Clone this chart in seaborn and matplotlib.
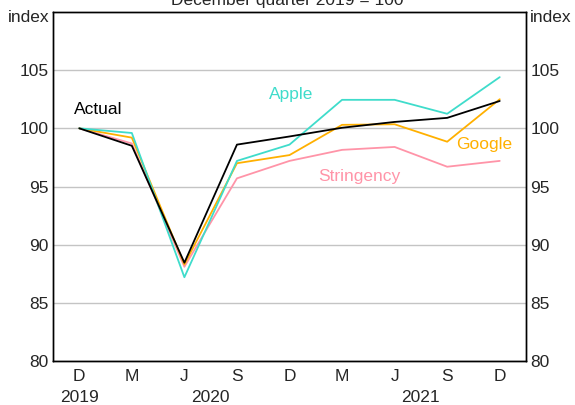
import matplotlib
matplotlib.use("Agg")
import matplotlib.pyplot as plt
import seaborn as sns
import pandas as pd
import numpy as np

quarters = ["D", "M", "J", "S", "D", "M", "J", "S", "D"]
years = ["2019", "2020", "2020", "2020", "2020", "2021", "2021", "2021", "2021"]
actual = [100.0, 98.5, 88.45, 98.6, 99.3, 100.05, 100.55, 100.9, 102.35]
apple = [100.0, 99.6, 87.2, 97.2, 98.6, 102.45, 102.45, 101.25, 104.4]
google = [100.0, 99.2, 88.3, 97.0, 97.7, 100.3, 100.35, 98.85, 102.5]
stringency = [100.0, 98.7, 88.1, 95.7, 97.2, 98.15, 98.4, 96.7, 97.2]
yticks = [80, 85, 90, 95, 100, 105]

series = {"Stringency": stringency, "Google": google, "Apple": apple, "Actual": actual}
colors = {"Actual": "#000000", "Apple": "#3fdccb", "Google": "#ffb000", "Stringency": "#ff94a8"}

rows = []
for name, vals in series.items():
    for i, v in enumerate(vals):
        rows.append({"pos": i, "value": v, "series": name})
df = pd.DataFrame(rows)

sns.set_theme(style="white")
plt.rcParams["font.family"] = ["Liberation Sans", "DejaVu Sans"]

fig = plt.figure(figsize=(5.75, 4.05), dpi=100)
ax = fig.add_axes([53 / 575, 1 - 361 / 405, 473 / 575, 349 / 405])

sns.lineplot(data=df, x="pos", y="value", hue="series", palette=colors,
             hue_order=["Stringency", "Google", "Apple", "Actual"],
             linewidth=1.3, legend=False, ax=ax)

ax.set_xlim(-0.5, 8.5)
ax.set_ylim(80, 110)
ax.set_yticks(yticks)
ax.set_yticklabels([str(t) for t in yticks], fontsize=12.5)
ax.yaxis.grid(True, color="#c4c4c4", linewidth=1.0)
ax.set_axisbelow(True)
ax.tick_params(axis="y", length=0, pad=3)
ax.set_xlabel("")
ax.set_ylabel("")

# x ticks: boundaries as inward tick marks, labels at centres
ax.set_xticks(np.arange(0.5, 8.0, 1.0))
ax.set_xticklabels([])
ax.tick_params(axis="x", which="major", direction="in", length=6, width=0.8, color="black")
ax.set_xticks(np.arange(len(quarters)), minor=True)
ax.set_xticklabels(quarters, minor=True, fontsize=12.5)
ax.tick_params(axis="x", which="minor", length=0, pad=6)

for s in ax.spines.values():
    s.set_color("black")
    s.set_linewidth(1.0)

ax2 = ax.twinx()
ax2.set_ylim(80, 110)
ax2.set_yticks(yticks)
ax2.set_yticklabels([str(t) for t in yticks], fontsize=12.5)
ax2.tick_params(axis="y", length=0, pad=3)
ax2.grid(False)
for s in ax2.spines.values():
    s.set_color("black")
    s.set_linewidth(1.0)

# year labels
for xpos, yr in [(0, "2019"), (2.5, "2020"), (6.5, "2021")]:
    ax.text(xpos, -0.105, yr, transform=ax.get_xaxis_transform(), ha="center", va="center", fontsize=12.5)

# unit labels
fig.text(8 / 575, 1 - 18 / 405, "index", ha="left", va="center", fontsize=12.5)
fig.text(530 / 575, 1 - 18 / 405, "index", ha="left", va="center", fontsize=12.5)
fig.text(0.5, 1 - 0 / 405, "December quarter 2019 = 100", ha="center", va="center", fontsize=12.5)

# series labels
ax.text(-0.1, 101.6, "Actual", color=colors["Actual"], fontsize=12.5, ha="left", va="center")
ax.text(3.6, 102.9, "Apple", color=colors["Apple"], fontsize=12.5, ha="left", va="center")
ax.text(7.17, 98.6, "Google", color=colors["Google"], fontsize=12.5, ha="left", va="center")
ax.text(4.55, 95.9, "Stringency", color=colors["Stringency"], fontsize=12.5, ha="left", va="center")

fig.savefig("out.png", dpi=100)
